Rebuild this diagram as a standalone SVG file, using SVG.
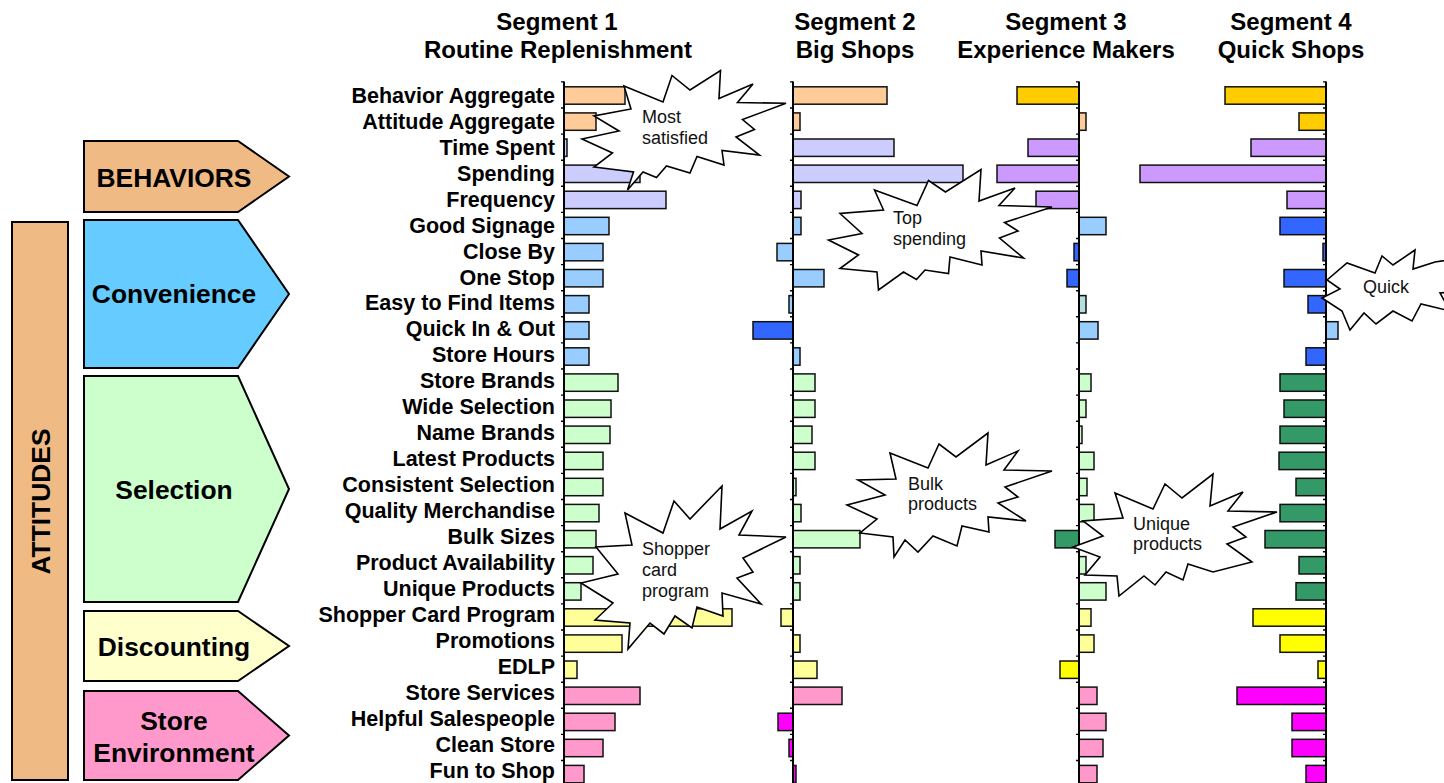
<svg xmlns="http://www.w3.org/2000/svg" width="1444" height="783" viewBox="0 0 1444 783">
  <style>
    text { font-family: "Liberation Sans", Arial, sans-serif; fill: #000; }
    .hdr { font-size: 24px; font-weight: bold; text-anchor: middle; }
    .row { font-size: 21.5px; font-weight: bold; text-anchor: end; }
    .cat { font-size: 26.4px; font-weight: bold; text-anchor: middle; }
    .note { font-size: 18px; fill: #111; }
    .shape { stroke: #000; stroke-width: 2; }
    .bar { stroke: #111; stroke-width: 1.5; }
    .axis { stroke: #000; stroke-width: 2; fill: none; }
    .tick { stroke: #000; stroke-width: 3; stroke-dasharray: 1.4 24.7; fill: none; }
    .burst { fill: #fff; stroke: #000; stroke-width: 1.6; stroke-linejoin: miter; }
    .or { fill: #FFCC99; } .lav { fill: #CCCCFF; } .lb { fill: #99CCFF; } .lg { fill: #CCFFCC; }
    .ly { fill: #FFFF99; } .pk { fill: #FF99CC; } .gold { fill: #FFCC00; } .pur { fill: #CC99FF; }
    .db { fill: #3366FF; } .teal { fill: #B2DFDF; } .dg { fill: #339966; } .yl { fill: #FFFF00; }
    .mg { fill: #FF00FF; }
  </style>

  <!-- column headings -->
  <g id="headers">
    <text class="hdr" x="557" y="30">Segment 1</text>
    <text class="hdr" x="558" y="58">Routine Replenishment</text>
    <text class="hdr" x="855" y="30">Segment 2</text>
    <text class="hdr" x="855" y="58">Big Shops</text>
    <text class="hdr" x="1066" y="30">Segment 3</text>
    <text class="hdr" x="1066" y="58">Experience Makers</text>
    <text class="hdr" x="1291" y="30">Segment 4</text>
    <text class="hdr" x="1291" y="58">Quick Shops</text>
  </g>

  <!-- category blocks on the left -->
  <g id="attitudes">
    <rect class="shape" x="12" y="222" width="56" height="558" fill="#EFBA84"/>
    <text class="cat" transform="translate(50,501.5) rotate(-90)">ATTITUDES</text>
  </g>
  <g id="behaviors">
    <path class="shape" d="M84,141 H238 L289,176.5 L238,212 H84 Z" fill="#EFBA84"/>
    <text class="cat" x="174" y="187">BEHAVIORS</text>
  </g>
  <g id="convenience">
    <path class="shape" d="M84,220 H238 L289,294 L238,368 H84 Z" fill="#66CCFF"/>
    <text class="cat" x="174" y="303">Convenience</text>
  </g>
  <g id="selection">
    <path class="shape" d="M84,376 H238 L289,489 L238,602 H84 Z" fill="#CCFFCC"/>
    <text class="cat" x="174" y="499">Selection</text>
  </g>
  <g id="discounting">
    <path class="shape" d="M84,611 H238 L289,646 L238,681 H84 Z" fill="#FFFFCC"/>
    <text class="cat" x="174" y="656">Discounting</text>
  </g>
  <g id="store-environment">
    <path class="shape" d="M84,691 H238 L289,735.5 L238,780 H84 Z" fill="#FF99CC"/>
    <text class="cat" x="174" y="730">Store</text>
    <text class="cat" x="174" y="762">Environment</text>
  </g>

  <!-- attribute names -->
  <g id="row-labels">
    <text class="row" x="555" y="102.6">Behavior Aggregate</text>
    <text class="row" x="555" y="128.6">Attitude Aggregate</text>
    <text class="row" x="555" y="154.6">Time Spent</text>
    <text class="row" x="555" y="180.5">Spending</text>
    <text class="row" x="555" y="206.5">Frequency</text>
    <text class="row" x="555" y="232.5">Good Signage</text>
    <text class="row" x="555" y="258.5">Close By</text>
    <text class="row" x="555" y="284.5">One Stop</text>
    <text class="row" x="555" y="310.4">Easy to Find Items</text>
    <text class="row" x="555" y="336.4">Quick In &amp; Out</text>
    <text class="row" x="555" y="362.4">Store Hours</text>
    <text class="row" x="555" y="388.4">Store Brands</text>
    <text class="row" x="555" y="414.4">Wide Selection</text>
    <text class="row" x="555" y="440.3">Name Brands</text>
    <text class="row" x="555" y="466.3">Latest Products</text>
    <text class="row" x="555" y="492.3">Consistent Selection</text>
    <text class="row" x="555" y="518.3">Quality Merchandise</text>
    <text class="row" x="555" y="544.3">Bulk Sizes</text>
    <text class="row" x="555" y="570.2">Product Availability</text>
    <text class="row" x="555" y="596.2">Unique Products</text>
    <text class="row" x="555" y="622.2">Shopper Card Program</text>
    <text class="row" x="555" y="648.2">Promotions</text>
    <text class="row" x="555" y="674.2">EDLP</text>
    <text class="row" x="555" y="700.1">Store Services</text>
    <text class="row" x="555" y="726.1">Helpful Salespeople</text>
    <text class="row" x="555" y="752.1">Clean Store</text>
    <text class="row" x="555" y="778.1">Fun to Shop</text>
  </g>

  <!-- Segment 1 bars (axis x=564) -->
  <g id="segment-1">
    <rect class="bar or" x="564" y="86.8" width="61" height="17.4"/>
    <rect class="bar or" x="564" y="112.9" width="32" height="17.4"/>
    <rect class="bar lav" x="564" y="139.0" width="3" height="17.4"/>
    <rect class="bar lav" x="564" y="165.1" width="76" height="17.4"/>
    <rect class="bar lav" x="564" y="191.2" width="102" height="17.4"/>
    <rect class="bar lb" x="564" y="217.3" width="45" height="17.4"/>
    <rect class="bar lb" x="564" y="243.4" width="39" height="17.4"/>
    <rect class="bar lb" x="564" y="269.5" width="39" height="17.4"/>
    <rect class="bar lb" x="564" y="295.6" width="25" height="17.4"/>
    <rect class="bar lb" x="564" y="321.7" width="25" height="17.4"/>
    <rect class="bar lb" x="564" y="347.8" width="25" height="17.4"/>
    <rect class="bar lg" x="564" y="373.9" width="54" height="17.4"/>
    <rect class="bar lg" x="564" y="400.0" width="47" height="17.4"/>
    <rect class="bar lg" x="564" y="426.1" width="46" height="17.4"/>
    <rect class="bar lg" x="564" y="452.2" width="39" height="17.4"/>
    <rect class="bar lg" x="564" y="478.3" width="39" height="17.4"/>
    <rect class="bar lg" x="564" y="504.4" width="35" height="17.4"/>
    <rect class="bar lg" x="564" y="530.5" width="32" height="17.4"/>
    <rect class="bar lg" x="564" y="556.6" width="29" height="17.4"/>
    <rect class="bar lg" x="564" y="582.7" width="17" height="17.4"/>
    <rect class="bar ly" x="564" y="608.8" width="168" height="17.4"/>
    <rect class="bar ly" x="564" y="634.9" width="58" height="17.4"/>
    <rect class="bar ly" x="564" y="661.0" width="13" height="17.4"/>
    <rect class="bar pk" x="564" y="687.1" width="76" height="17.4"/>
    <rect class="bar pk" x="564" y="713.2" width="51" height="17.4"/>
    <rect class="bar pk" x="564" y="739.3" width="39" height="17.4"/>
    <rect class="bar pk" x="564" y="765.4" width="20" height="17.4"/>
    <line class="axis" x1="564" y1="81.5" x2="564" y2="783"/>
    <line class="tick" x1="562.5" y1="81.2" x2="562.5" y2="783"/>
  </g>

  <!-- Segment 2 bars (axis x=793) -->
  <g id="segment-2">
    <rect class="bar or" x="793" y="86.8" width="94" height="17.4"/>
    <rect class="bar or" x="793" y="112.9" width="7" height="17.4"/>
    <rect class="bar lav" x="793" y="139.0" width="101" height="17.4"/>
    <rect class="bar lav" x="793" y="165.1" width="170" height="17.4"/>
    <rect class="bar lav" x="793" y="191.2" width="8" height="17.4"/>
    <rect class="bar lb" x="793" y="217.3" width="8" height="17.4"/>
    <rect class="bar lb" x="777" y="243.4" width="16" height="17.4"/>
    <rect class="bar lb" x="793" y="269.5" width="31" height="17.4"/>
    <rect class="bar lb" x="789" y="295.6" width="4" height="17.4"/>
    <rect class="bar db" x="753" y="321.7" width="40" height="17.4"/>
    <rect class="bar lb" x="793" y="347.8" width="7" height="17.4"/>
    <rect class="bar lg" x="793" y="373.9" width="22" height="17.4"/>
    <rect class="bar lg" x="793" y="400.0" width="22" height="17.4"/>
    <rect class="bar lg" x="793" y="426.1" width="19" height="17.4"/>
    <rect class="bar lg" x="793" y="452.2" width="22" height="17.4"/>
    <rect class="bar lg" x="793" y="478.3" width="3" height="17.4"/>
    <rect class="bar lg" x="793" y="504.4" width="8" height="17.4"/>
    <rect class="bar lg" x="793" y="530.5" width="67" height="17.4"/>
    <rect class="bar lg" x="793" y="556.6" width="7" height="17.4"/>
    <rect class="bar lg" x="793" y="582.7" width="7" height="17.4"/>
    <rect class="bar ly" x="781" y="608.8" width="12" height="17.4"/>
    <rect class="bar ly" x="793" y="634.9" width="7" height="17.4"/>
    <rect class="bar ly" x="793" y="661.0" width="24" height="17.4"/>
    <rect class="bar pk" x="793" y="687.1" width="49" height="17.4"/>
    <rect class="bar mg" x="778" y="713.2" width="15" height="17.4"/>
    <rect class="bar mg" x="789" y="739.3" width="4" height="17.4"/>
    <rect class="bar mg" x="793" y="765.4" width="3" height="17.4"/>
    <line class="axis" x1="793" y1="81.5" x2="793" y2="783"/>
    <line class="tick" x1="791.5" y1="81.2" x2="791.5" y2="783"/>
  </g>

  <!-- Segment 3 bars (axis x=1079) -->
  <g id="segment-3">
    <rect class="bar gold" x="1017" y="86.8" width="62" height="17.4"/>
    <rect class="bar or" x="1079" y="112.9" width="7" height="17.4"/>
    <rect class="bar pur" x="1028" y="139.0" width="51" height="17.4"/>
    <rect class="bar pur" x="997" y="165.1" width="82" height="17.4"/>
    <rect class="bar pur" x="1036" y="191.2" width="43" height="17.4"/>
    <rect class="bar lb" x="1079" y="217.3" width="27" height="17.4"/>
    <rect class="bar db" x="1074" y="243.4" width="5" height="17.4"/>
    <rect class="bar db" x="1067" y="269.5" width="12" height="17.4"/>
    <rect class="bar teal" x="1079" y="295.6" width="7" height="17.4"/>
    <rect class="bar lb" x="1079" y="321.7" width="19" height="17.4"/>
    <rect class="bar lg" x="1079" y="373.9" width="12" height="17.4"/>
    <rect class="bar lg" x="1079" y="400.0" width="7" height="17.4"/>
    <rect class="bar lg" x="1079" y="426.1" width="3" height="17.4"/>
    <rect class="bar lg" x="1079" y="452.2" width="15" height="17.4"/>
    <rect class="bar lg" x="1079" y="478.3" width="8" height="17.4"/>
    <rect class="bar lg" x="1079" y="504.4" width="15" height="17.4"/>
    <rect class="bar dg" x="1055" y="530.5" width="24" height="17.4"/>
    <rect class="bar lg" x="1079" y="556.6" width="7" height="17.4"/>
    <rect class="bar lg" x="1079" y="582.7" width="27" height="17.4"/>
    <rect class="bar ly" x="1079" y="608.8" width="12" height="17.4"/>
    <rect class="bar ly" x="1079" y="634.9" width="15" height="17.4"/>
    <rect class="bar yl" x="1060" y="661.0" width="19" height="17.4"/>
    <rect class="bar pk" x="1079" y="687.1" width="18" height="17.4"/>
    <rect class="bar pk" x="1079" y="713.2" width="27" height="17.4"/>
    <rect class="bar pk" x="1079" y="739.3" width="24" height="17.4"/>
    <rect class="bar pk" x="1079" y="765.4" width="18" height="17.4"/>
    <line class="axis" x1="1079" y1="81.5" x2="1079" y2="783"/>
    <line class="tick" x1="1077.5" y1="81.2" x2="1077.5" y2="783"/>
  </g>

  <!-- Segment 4 bars (axis x=1326) -->
  <g id="segment-4">
    <rect class="bar gold" x="1225" y="86.8" width="101" height="17.4"/>
    <rect class="bar gold" x="1299" y="112.9" width="27" height="17.4"/>
    <rect class="bar pur" x="1251" y="139.0" width="75" height="17.4"/>
    <rect class="bar pur" x="1140" y="165.1" width="186" height="17.4"/>
    <rect class="bar pur" x="1287" y="191.2" width="39" height="17.4"/>
    <rect class="bar db" x="1280" y="217.3" width="46" height="17.4"/>
    <rect class="bar db" x="1323" y="243.4" width="3" height="17.4"/>
    <rect class="bar db" x="1284" y="269.5" width="42" height="17.4"/>
    <rect class="bar db" x="1308" y="295.6" width="18" height="17.4"/>
    <rect class="bar lb" x="1326" y="321.7" width="12" height="17.4"/>
    <rect class="bar db" x="1306" y="347.8" width="20" height="17.4"/>
    <rect class="bar dg" x="1280" y="373.9" width="46" height="17.4"/>
    <rect class="bar dg" x="1284" y="400.0" width="42" height="17.4"/>
    <rect class="bar dg" x="1280" y="426.1" width="46" height="17.4"/>
    <rect class="bar dg" x="1279" y="452.2" width="47" height="17.4"/>
    <rect class="bar dg" x="1296" y="478.3" width="30" height="17.4"/>
    <rect class="bar dg" x="1280" y="504.4" width="46" height="17.4"/>
    <rect class="bar dg" x="1265" y="530.5" width="61" height="17.4"/>
    <rect class="bar dg" x="1299" y="556.6" width="27" height="17.4"/>
    <rect class="bar dg" x="1296" y="582.7" width="30" height="17.4"/>
    <rect class="bar yl" x="1253" y="608.8" width="73" height="17.4"/>
    <rect class="bar yl" x="1280" y="634.9" width="46" height="17.4"/>
    <rect class="bar yl" x="1318" y="661.0" width="8" height="17.4"/>
    <rect class="bar mg" x="1237" y="687.1" width="89" height="17.4"/>
    <rect class="bar mg" x="1292" y="713.2" width="34" height="17.4"/>
    <rect class="bar mg" x="1292" y="739.3" width="34" height="17.4"/>
    <rect class="bar mg" x="1306" y="765.4" width="20" height="17.4"/>
    <line class="axis" x1="1326" y1="81.5" x2="1326" y2="783"/>
    <line class="tick" x1="1324.5" y1="81.2" x2="1324.5" y2="783"/>
  </g>

  <!-- starburst callouts -->
  <g id="callouts">
    <g id="most-satisfied">
      <polygon class="burst" points="624,86 663,102 672,75.5 690,90 720.5,70.5 719,98.5 753,84 737.5,102.5 786,103.3 742.5,119.5 754.5,129.5 736,137 759.5,155 722,150.5 724,165 697,156.5 690,173 666.5,166 656.5,177.5 643,172 627.5,190 633.5,172 594,167 612.5,153 582,139 619,131 594,116 631,109"/>
      <text class="note" x="642" y="123">Most</text>
      <text class="note" x="642" y="144">satisfied</text>
    </g>
    <g id="top-spending">
      <polygon class="burst" points="874.5,190 917,205.5 928.5,180.5 945.5,192 981,169.5 979,201 1015,188 999,205.5 1052,207 1004.5,222.5 1018,231 999.5,238 1023.5,258 981,251 982,265 950,257 948.5,273.5 925,270 916.5,279.5 903.5,272 878.5,290 877,272 840,268.5 858.5,255 828.5,240 862,233.5 840,213.5 883.5,210"/>
      <text class="note" x="893" y="224">Top</text>
      <text class="note" x="893" y="245">spending</text>
    </g>
    <g id="quick">
      <polygon class="burst" points="1327,280 1347,263 1375,273 1382,256 1393,265 1415,250 1413,269 1435,262 1462,258 1446,276 1464,291 1440,293 1450,311 1421,304 1412,321 1393,311 1376,324 1364,313 1350,330 1342,311 1322,298 1340,289"/>
      <text class="note" x="1363" y="293">Quick</text>
    </g>
    <g id="bulk-products">
      <polygon class="burst" points="890,453 928,468 939,444 956,457 988,433 986,465 1018,451 1004,470 1052,471 1005,487 1018,497 998,503 1026,521 988,517 989,532 962,526 957,546 933,536 918,552 905,540 894,557 893,537 860,533 877,519 847,505 885,495 858,480 896,479"/>
      <text class="note" x="908" y="490">Bulk</text>
      <text class="note" x="908" y="510">products</text>
    </g>
    <g id="unique-products">
      <polygon class="burst" points="1115,493 1153,509 1165,484 1182,498 1213,474 1210,506 1243,492 1228,511 1277,512 1233,527 1246,537 1227,544 1252,562 1213,572 1188,564 1183,580 1166,572 1155,585 1144,576 1119,596 1117,576 1085,575 1100,557 1073,547 1103,536 1083,521 1123,518"/>
      <text class="note" x="1133" y="530">Unique</text>
      <text class="note" x="1133" y="550">products</text>
    </g>
    <g id="shopper-card-program">
      <polygon class="burst" points="625,513 663,533 674,501 690,519 722,486 720,529 752,511 739,535 786,537 743,558 753,572 737,578 761,604 722,593 723,616 697,607 692,628 675,616 664,634 650,623 628,649 630,623 595,620 613,603 581,583 618,574 596,547 632,545"/>
      <text class="note" x="642" y="555">Shopper</text>
      <text class="note" x="642" y="576">card</text>
      <text class="note" x="642" y="597">program</text>
    </g>
  </g>
</svg>
